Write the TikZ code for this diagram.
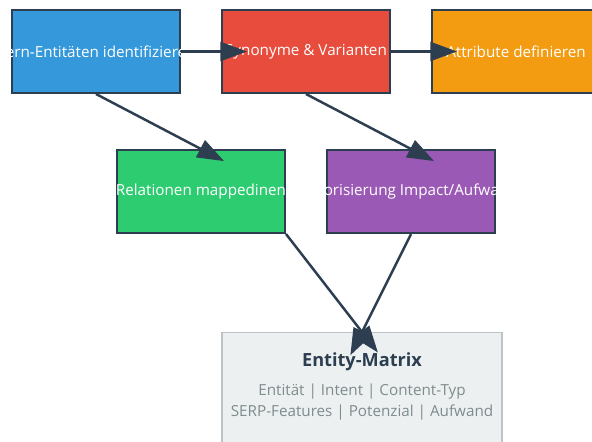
\documentclass[tikz,border=0pt]{standalone}
\usepackage{fontspec}
\setmainfont{Open Sans}
\usetikzlibrary{arrows.meta, positioning, calc}
\definecolor{dunkel}{HTML}{2C3E50}
\definecolor{blau}{HTML}{3498DB}
\definecolor{rot}{HTML}{E74C3C}
\definecolor{orange}{HTML}{F39C12}
\definecolor{gruen}{HTML}{2ECC71}
\definecolor{lila}{HTML}{9B59B6}
\definecolor{hellgrau}{HTML}{ECF0F1}
\definecolor{randgrau}{HTML}{BDC3C7}
\definecolor{textgrau}{HTML}{7F8C8D}

\begin{document}
\begin{tikzpicture}[x=0.03cm, y=-0.03cm, >={Triangle[length=0.8cm, width=0.57cm]},
    box/.style={draw=dunkel, line width=1.7pt, minimum width=5.04cm, minimum height=2.49cm, inner sep=0pt},
    txt/.style={text=white, font=\fontsize{13}{15}\selectfont},
    pfeil/.style={->, draw=dunkel, line width=2.1pt, shorten >=-0.78cm}]
    \clip (0,0) rectangle (592,441);
    \fill[white] (0,0) rectangle (592,441);
    % obere Reihe
    \node[box, fill=blau, label={[txt]center:Kern-Entitäten identifizieren}] (kern) at (96,51.5) {};
    \node[box, fill=rot, label={[txt]center:Synonyme \& Varianten}] (syn) at (306,51.5) {};
    \node[box, fill=orange, label={[txt]center:Attribute definieren}] (attr) at (516,51.5) {};
    % mittlere Reihe
    \node[box, fill=gruen, label={[txt]center:Relationen mappedinen}] (rel) at (201,191.5) {};
    \node[box, fill=lila, label={[txt]center:Priorisierung Impact/Aufwand}] (prio) at (411,191.5) {};
    % Ergebnis
    \node[draw=randgrau, fill=hellgrau, line width=1.2pt, minimum width=8.4cm, minimum height=4.2cm, anchor=north] (emx) at (362,332) {};
    \node[text=dunkel, font=\fontsize{15.5}{17}\selectfont\bfseries] (titel) at ($(emx.north)+(0,30)$) {Entity-Matrix};
    \node[text=textgrau, align=center, font=\fontsize{13}{17.9}\selectfont] (felder) at ($(emx.north)+(0,70)$)
        {Entität | Intent | Content-Typ\\SERP-Features | Potenzial | Aufwand};
    % Verbindungen
    \draw[pfeil] (kern.east) -- (syn.west);
    \draw[pfeil] (syn.east) -- (attr.west);
    \draw[pfeil] (kern.south) -- (rel.north);
    \draw[pfeil] (syn.south) -- (prio.north);
    \draw[pfeil] (rel.south east) -- (emx.north);
    \draw[pfeil] (prio.south) -- (emx.north);
\end{tikzpicture}
\end{document}
